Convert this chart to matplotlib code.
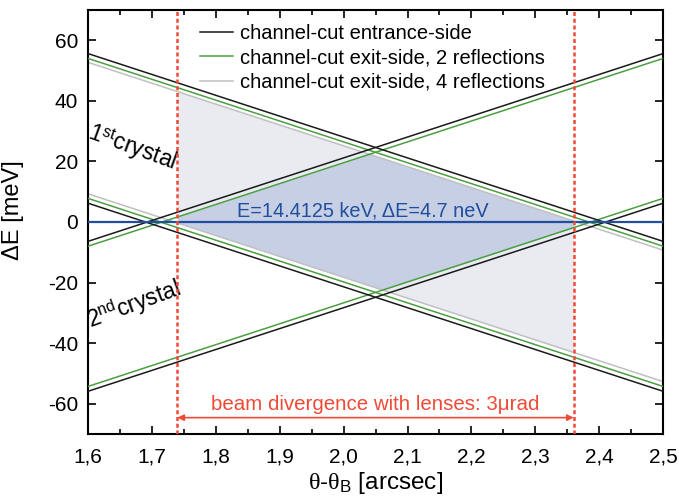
import numpy as np
import matplotlib
matplotlib.use("Agg")
import matplotlib.pyplot as plt
from matplotlib.lines import Line2D

plt.rcParams['font.family'] = ['Liberation Sans', 'DejaVu Sans']
plt.rcParams['mathtext.fontset'] = 'custom'
plt.rcParams['mathtext.rm'] = 'Liberation Sans'
plt.rcParams['mathtext.it'] = 'Liberation Serif'
plt.rcParams['axes.unicode_minus'] = False

# line end points read at theta = 1.6 and 2.5 arcsec
theta = [1.6, 2.5]
entr_desc_hi = [55.6, -6.4]
entr_desc_lo = [6.2, -55.9]
entr_asc_hi = [-6.4, 55.6]
entr_asc_lo = [-55.9, 6.2]
exit2_desc_hi = [54.0, -8.0]
exit2_desc_lo = [7.8, -54.3]
exit2_asc_hi = [-8.0, 54.0]
exit2_asc_lo = [-54.3, 7.8]
exit4_desc_hi = [52.7, -9.3]
exit4_desc_lo = [9.3, -52.7]

div_lo, div_hi = 1.74, 2.36   # beam divergence window
e_line = 0.0

xticks = [1.6, 1.7, 1.8, 1.9, 2.0, 2.1, 2.2, 2.3, 2.4, 2.5]
xticklabels = ['1,6', '1,7', '1,8', '1,9', '2,0', '2,1', '2,2', '2,3', '2,4', '2,5']
yticks = [-60, -40, -20, 0, 20, 40, 60]

black = '#1a1a1a'
green = '#4aa040'
grey = '#c0c0c4'
red = '#f04a36'
blue = '#1f4f9e'

fig = plt.figure(figsize=(6.79, 4.98), dpi=100)
ax = fig.add_axes([0.1296, 0.1285, 0.847, 0.8515])

# shaded regions inside the divergence window
xs = np.linspace(div_lo, div_hi, 400)
d_hi = np.interp(xs, theta, exit4_desc_hi)
d_lo = np.interp(xs, theta, exit4_desc_lo)
a_hi = np.interp(xs, theta, exit2_asc_hi)
a_lo = np.interp(xs, theta, exit2_asc_lo)
ax.fill_between(xs, d_lo, d_hi, color='#e9ebf0', lw=0, zorder=1)
top = np.minimum(d_hi, a_hi)
bot = np.maximum(d_lo, a_lo)
ax.fill_between(xs, bot, top, where=top > bot, color='#c7cfe5', lw=0, zorder=1.1)

lw = 1.1
ax.plot(theta, exit4_desc_hi, color=grey, lw=lw, zorder=2)
ax.plot(theta, exit4_desc_lo, color=grey, lw=lw, zorder=2)
for ys in (exit2_desc_hi, exit2_desc_lo, exit2_asc_hi, exit2_asc_lo):
    ax.plot(theta, ys, color=green, lw=lw, zorder=3)
for ys in (entr_desc_hi, entr_desc_lo, entr_asc_hi, entr_asc_lo):
    ax.plot(theta, ys, color=black, lw=lw, zorder=4)

ax.axhline(e_line, color=blue, lw=1.6, zorder=5)
ax.text(2.03, e_line + 1.8, 'E=14.4125 keV, \u0394E=4.7 neV', color=blue,
        fontsize=14.3, ha='center', va='baseline', zorder=6)

for xv in (div_lo, div_hi):
    ax.axvline(xv, color=red, lw=1.8, ls=(0, (1.6, 1.1)), zorder=6)
ax.annotate('', xy=(div_lo, -64.6), xytext=(div_hi, -64.6),
            arrowprops=dict(arrowstyle='<|-|>', color=red, lw=1.2,
                            mutation_scale=9, shrinkA=0, shrinkB=0), zorder=6)
ax.text(2.05, -62, 'beam divergence with lenses: 3\u03bcrad', color=red,
        fontsize=14.8, ha='center', va='baseline')

ax.text(1.669, 24.4, r'1$^{\mathrm{st}}$crystal', fontsize=16.5, rotation=-20,
        ha='center', va='center', rotation_mode='anchor')
ax.text(1.672, -27.4, r'2$^{\mathrm{nd}}$crystal', fontsize=16.5, rotation=20,
        ha='center', va='center', rotation_mode='anchor')

handles = [Line2D([], [], color=black, lw=lw), Line2D([], [], color=green, lw=lw),
           Line2D([], [], color=grey, lw=lw)]
labels = ['channel-cut entrance-side', 'channel-cut exit-side, 2 reflections',
          'channel-cut exit-side, 4 reflections']
ax.legend(handles, labels, loc='upper left', bbox_to_anchor=(0.181, 0.986),
          frameon=False, fontsize=14.5, handlelength=1.64, handletextpad=0.35,
          labelspacing=0.27, borderpad=0.4, borderaxespad=0)

ax.set_xlim(1.6, 2.5)
ax.set_ylim(-70, 70)
ax.set_xticks(xticks)
ax.set_xticklabels(xticklabels)
ax.set_xticks(np.arange(1.65, 2.5, 0.1), minor=True)
ax.set_yticks(yticks)
ax.tick_params(which='both', direction='in', top=True, right=True, labelsize=15,
               width=1.2, pad=7)
ax.tick_params(axis='x', which='major', pad=10)
ax.tick_params(which='major', length=6)
ax.tick_params(which='minor', length=3.5)
for s in ax.spines.values():
    s.set_linewidth(1.5)

ax.set_xlabel(r'$\theta$-$\theta_{\mathrm{B}}$ [arcsec]', fontsize=17.5, labelpad=2)
ax.set_ylabel('\u0394E [meV]', fontsize=17)
ax.yaxis.set_label_coords(-0.111, 0.528)

fig.savefig('out.png', dpi=100)
